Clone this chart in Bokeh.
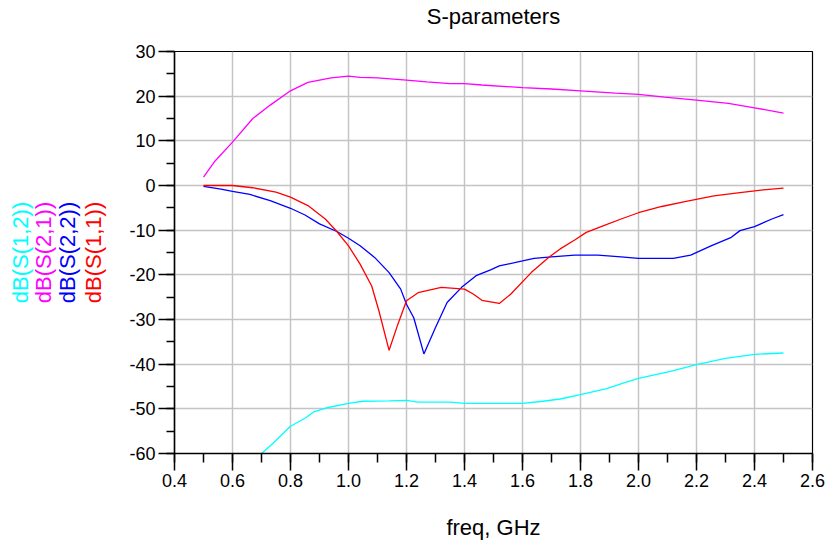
from bokeh.plotting import figure
from bokeh.models import (Range1d, SingleIntervalTicker, NumeralTickFormatter, Title,
                          LinearAxis, FixedTicker)
from bokeh.embed import file_html
from bokeh.resources import INLINE

# ---- data ----
s21_f = [0.50, 0.54, 0.60, 0.67, 0.73, 0.80, 0.86, 0.94, 1.00, 1.04, 1.10, 1.20, 1.27, 1.35, 1.40, 1.46,
         1.60, 1.70, 1.80, 1.92, 2.00, 2.09, 2.20, 2.31, 2.40, 2.50]
s21_db = [1.9, 5.5, 9.7, 15.0, 18.0, 21.2, 23.1, 24.1, 24.5, 24.2, 24.1, 23.6, 23.2, 22.8, 22.8, 22.5,
          21.9, 21.6, 21.2, 20.7, 20.4, 19.8, 19.1, 18.4, 17.4, 16.2]

s11_f = [0.50, 0.60, 0.67, 0.75, 0.80, 0.86, 0.92, 0.96, 1.00, 1.04, 1.08, 1.105, 1.14, 1.17, 1.20, 1.24,
         1.32, 1.40, 1.43, 1.46, 1.52, 1.56, 1.63, 1.69, 1.73, 1.78, 1.82, 1.88, 1.94, 2.00, 2.08,
         2.16, 2.26, 2.35, 2.43, 2.50]
s11_db = [0.0, 0.0, -0.5, -1.5, -2.6, -4.5, -7.5, -10.3, -13.5, -17.6, -22.5, -28.1, -36.9, -31.1, -25.8, -24.0,
          -22.8, -23.2, -24.3, -25.7, -26.4, -24.3, -19.5, -16.1, -14.2, -12.2, -10.5, -9.0, -7.5, -6.1, -4.7,
          -3.6, -2.3, -1.6, -1.0, -0.6]

s22_f = [0.50, 0.56, 0.60, 0.66, 0.73, 0.80, 0.85, 0.90, 0.96, 1.00, 1.04, 1.09, 1.14, 1.18, 1.20, 1.225,
         1.26, 1.30, 1.34, 1.39, 1.44, 1.49, 1.52, 1.60, 1.64, 1.70, 1.78, 1.86, 1.94, 2.00, 2.12, 2.18,
         2.25, 2.32, 2.35, 2.40, 2.46, 2.50]
s22_db = [-0.2, -0.8, -1.3, -2.0, -3.4, -5.1, -6.6, -8.6, -10.3, -11.8, -13.5, -16.1, -19.5, -23.2, -26.6, -29.6,
          -37.7, -31.8, -26.2, -22.8, -20.2, -18.9, -18.0, -16.9, -16.3, -16.0, -15.6, -15.6, -16.0, -16.3, -16.3, -15.6,
          -13.5, -11.6, -10.1, -9.2, -7.5, -6.5]

s12_f = [0.70, 0.74, 0.80, 0.85, 0.88, 0.93, 1.00, 1.05, 1.14, 1.20, 1.24, 1.35, 1.40, 1.60, 1.67, 1.73,
         1.80, 1.89, 1.95, 2.00, 2.11, 2.20, 2.30, 2.40, 2.50]
s12_db = [-60.0, -57.7, -53.9, -52.1, -50.7, -49.7, -48.8, -48.3, -48.2, -48.1, -48.5, -48.5, -48.8, -48.8, -48.3, -47.8,
          -46.8, -45.5, -44.2, -43.2, -41.6, -40.1, -38.7, -37.8, -37.5]

x_ticks_interval = 0.2
y_ticks_interval = 10

title_text = "S-parameters"
x_label_text = "freq, GHz"
# innermost label is the y axis' own label; the others stack outward
y_label_inner = "dB(S(1,1))"
y_label_inner_color = "#ff0000"
y_labels_outer = ["dB(S(2,2))", "dB(S(2,1))", "dB(S(1,2))"]
y_labels_outer_colors = ["#0000ff", "#ff00ff", "#00ffff"]
y_labels_outer_standoffs = [-2, -5, -2]

FONT = "Liberation Sans"
W, H = 828, 542
L, R, T, B = 174, 16, 50, 89

p = figure(width=W, height=H, output_backend="svg", toolbar_location=None,
           x_range=Range1d(0.4, 2.6), y_range=Range1d(-60, 30),
           min_border_left=L, min_border_right=R, min_border_top=T, min_border_bottom=B,
           background_fill_color="white", border_fill_color="white", title=None)
p.outline_line_color = "black"
p.outline_line_width = 1.2

xticker = SingleIntervalTicker(interval=x_ticks_interval, num_minor_ticks=2)
yticker = SingleIntervalTicker(interval=y_ticks_interval, num_minor_ticks=2)
xax = p.xaxis[0]
yax = p.yaxis[0]
xax.ticker = xticker
yax.ticker = yticker
xax.formatter = NumeralTickFormatter(format="0.0")
yax.formatter = NumeralTickFormatter(format="0")

for ax in (xax, yax):
    ax.axis_line_color = "black"
    ax.axis_line_width = 1.5
    ax.major_tick_line_color = "black"
    ax.minor_tick_line_color = "black"
    ax.major_tick_line_width = 1.5
    ax.minor_tick_line_width = 1.5
    ax.major_tick_in = 0
    ax.minor_tick_in = 0
    ax.major_label_text_font = FONT
    ax.major_label_text_font_size = "18px"
    ax.major_label_text_color = "black"
    ax.major_label_standoff = 3
    ax.axis_label_text_font = FONT
    ax.axis_label_text_font_size = "22px"
    ax.axis_label_text_font_style = "normal"
xax.major_tick_out = 17
xax.minor_tick_out = 9
yax.major_tick_out = 16
yax.minor_tick_out = 8

xax.axis_label = x_label_text
xax.axis_label_text_color = "black"
xax.axis_label_standoff = 25

yax.axis_label = y_label_inner
yax.axis_label_text_color = y_label_inner_color
yax.axis_label_standoff = 20

p.xgrid[0].ticker = xticker
p.ygrid[0].ticker = yticker
p.xgrid[0].grid_line_color = "#c4c4c4"
p.ygrid[0].grid_line_color = "#c4c4c4"
p.xgrid[0].grid_line_width = 1.5
p.ygrid[0].grid_line_width = 1.5

# title drawn as the label of an empty axis above the frame
top_axis = LinearAxis(ticker=FixedTicker(ticks=[], minor_ticks=[]), axis_label=title_text,
                      axis_label_text_font=FONT, axis_label_text_font_size="22px",
                      axis_label_text_font_style="normal", axis_label_text_color="black",
                      axis_label_standoff=23, axis_line_color=None,
                      major_tick_out=0, minor_tick_out=0, major_tick_in=0, minor_tick_in=0,
                      major_label_standoff=0)
p.add_layout(top_axis, "above")

p.line(s12_f, s12_db, line_color="#00ffff", line_width=1.3)
p.line(s21_f, s21_db, line_color="#ff00ff", line_width=1.3)
p.line(s22_f, s22_db, line_color="#0000ff", line_width=1.3)
p.line(s11_f, s11_db, line_color="#ff0000", line_width=1.3)

for txt, col, so in zip(y_labels_outer, y_labels_outer_colors, y_labels_outer_standoffs):
    t = Title(text=txt, text_color=col, text_font=FONT, text_font_size="22px",
              text_font_style="normal", align="center", standoff=so)
    p.add_layout(t, "left")

open("out.html", "w").write(file_html(p, INLINE))
